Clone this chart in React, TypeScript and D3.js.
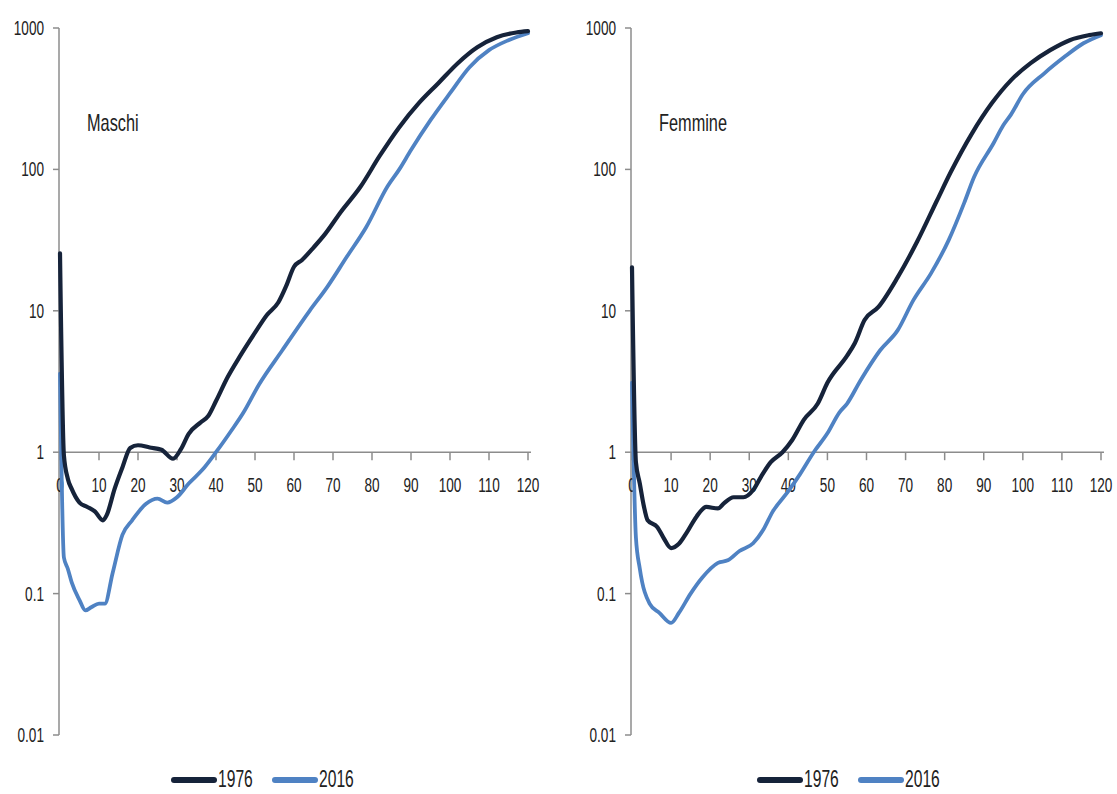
import React from "react";
import * as d3 from "d3";

// mortality per 1000 (log scale)
const maleAges1976 = [0, 1, 2, 3, 5, 7, 9, 11, 12, 14, 16, 18, 20, 23, 26, 29, 31, 33, 36, 38, 40, 43, 46, 50, 53, 56, 58, 60, 62, 65, 68, 72, 77, 82, 87, 92, 97, 102, 107, 112, 117, 120];
const male1976 = [25.5, 0.95, 0.65, 0.55, 0.44, 0.41, 0.38, 0.33, 0.36, 0.55, 0.78, 1.07, 1.12, 1.08, 1.04, 0.9, 1.05, 1.35, 1.62, 1.8, 2.3, 3.4, 4.7, 7.0, 9.3, 11.5, 15, 20.5, 22.8, 28, 35, 50, 75, 125, 199, 294, 407, 564, 731, 861, 930, 950];

const maleAges2016 = [0, 1, 2, 3, 5, 6.5, 8, 10, 11.5, 13.5, 16, 18.5, 22, 25, 27.5, 30, 33, 36.5, 40, 44, 47, 51, 57, 64, 68.5, 73.5, 78.5, 84, 87, 90, 95, 100, 105, 110, 115, 120];
const male2016 = [3.6, 0.18, 0.15, 0.12, 0.09, 0.076, 0.08, 0.085, 0.085, 0.14, 0.26, 0.33, 0.43, 0.47, 0.44, 0.48, 0.6, 0.75, 1.0, 1.43, 1.9, 3.0, 5.26, 10, 14.7, 24, 39, 76, 100, 137, 223, 346, 528, 697, 820, 918];

const femaleAges1976 = [0, 1, 2, 3, 4, 6.5, 8, 10, 12, 14, 16.5, 19, 22, 23.5, 26, 28.5, 31, 33, 35.5, 38.5, 41, 44, 47.5, 50, 55, 57, 59.5, 63, 68, 73, 78, 81.5, 87, 92, 97, 102, 107, 112, 117, 120];
const female1976 = [20.3, 0.85, 0.6, 0.42, 0.33, 0.295, 0.25, 0.21, 0.225, 0.27, 0.35, 0.41, 0.4, 0.435, 0.48, 0.48, 0.54, 0.67, 0.85, 1.0, 1.22, 1.7, 2.2, 3.1, 4.8, 5.9, 8.6, 10.6, 17.3, 31, 60, 95, 180, 292, 428, 564, 697, 820, 890, 918];

const femaleAges2016 = [0, 1, 2, 4.5, 7, 10, 12, 15, 18, 22, 24.5, 27.5, 31, 33.5, 36, 40, 43, 46.5, 50, 53, 55, 58.5, 63.5, 68, 72, 76.5, 81, 85, 87.5, 92.5, 95, 97, 100, 105.5, 110.5, 115.5, 120];
const female2016 = [3.1, 0.25, 0.15, 0.085, 0.073, 0.062, 0.073, 0.1, 0.13, 0.165, 0.172, 0.2, 0.227, 0.28, 0.38, 0.53, 0.7, 1.0, 1.36, 1.9, 2.2, 3.23, 5.26, 7.3, 11.9, 18.4, 31.5, 58, 88, 153, 205, 245, 340, 478, 620, 780, 890];

const xTicks = [0, 10, 20, 30, 40, 50, 60, 70, 80, 90, 100, 110, 120];
const yTicks = [0.01, 0.1, 1, 10, 100, 1000];
const yTickLabels = ["0.01", "0.1", "1", "10", "100", "1000"];
const seriesNames = ["1976", "2016"];
const panelTitles = ["Maschi", "Femmine"];

const COLORS = ["#16233a", "#4f82c3"];
const AXIS = "#8c8c8c";
const TEXT = "#222";
const FONT = "'Liberation Sans', Arial, sans-serif";
const SQUEEZE = 0.68;

const W = 1117;
const H = 794;

const yScale = d3.scaleLog().domain([0.01, 1000]).range([735, 28]);

type Series = { ages: number[]; values: number[] };

function Label(props: { x: number; y: number; size: number; anchor?: string; children: React.ReactNode }) {
  return (
    <text
      transform={`translate(${props.x},${props.y}) scale(${SQUEEZE},1)`}
      textAnchor={props.anchor || "start"}
      fontSize={props.size}
      fontFamily={FONT}
      fill={TEXT}
    >
      {props.children}
    </text>
  );
}

function Panel(props: { left: number; right: number; title: string; series: Series[]; legendX: number }) {
  const { left, right, title, series, legendX } = props;
  const xScale = d3.scaleLinear().domain([0, 120]).range([left, right]);
  const line = d3
    .line<[number, number]>()
    .curve(d3.curveMonotoneX)
    .x((d) => xScale(d[0]))
    .y((d) => yScale(d[1]));

  const axisY = yScale(1);
  const axisX = left - 1;

  return (
    <g>
      {/* y axis */}
      <line x1={axisX} x2={axisX} y1={yScale(1000)} y2={yScale(0.01)} stroke={AXIS} strokeWidth={1.5} />
      {yTicks.map((t, i) => (
        <g key={t}>
          <line x1={axisX - 6} x2={axisX} y1={yScale(t)} y2={yScale(t)} stroke={AXIS} strokeWidth={1.5} />
          <Label x={axisX - 15} y={yScale(t) + 7} size={20} anchor="end">
            {yTickLabels[i]}
          </Label>
        </g>
      ))}

      {/* x axis drawn at 1 */}
      <line x1={axisX} x2={xScale(120) + 3} y1={axisY} y2={axisY} stroke={AXIS} strokeWidth={1.5} />
      {xTicks.map((t) => (
        <g key={t}>
          <line x1={xScale(t)} x2={xScale(t)} y1={axisY} y2={axisY + 8} stroke={AXIS} strokeWidth={1.5} />
          <Label x={xScale(t)} y={axisY + 40} size={20} anchor="middle">
            {t}
          </Label>
        </g>
      ))}

      {/* series, 2016 first so 1976 sits on top where they meet */}
      {[1, 0].map((si) => {
        const s = series[si];
        const pts = s.ages.map((a, i) => [a, s.values[i]] as [number, number]);
        return (
          <path
            key={si}
            d={line(pts) || ""}
            fill="none"
            stroke={COLORS[si]}
            strokeWidth={si === 0 ? 4.2 : 3.8}
            strokeLinejoin="round"
            strokeLinecap="round"
          />
        );
      })}

      <Label x={left + 27} y={131} size={24}>
        {title}
      </Label>

      {/* legend */}
      {seriesNames.map((name, i) => {
        const x = legendX + i * 101;
        return (
          <g key={name}>
            <line x1={x} x2={x + 40} y1={780} y2={780} stroke={COLORS[i]} strokeWidth={6} strokeLinecap="round" />
            <Label x={x + 44} y={787} size={23}>
              {name}
            </Label>
          </g>
        );
      })}
    </g>
  );
}

export default function App() {
  const maleSeries: Series[] = [
    { ages: maleAges1976, values: male1976 },
    { ages: maleAges2016, values: male2016 },
  ];
  const femaleSeries: Series[] = [
    { ages: femaleAges1976, values: female1976 },
    { ages: femaleAges2016, values: female2016 },
  ];
  return (
    <div style={{ position: "fixed", left: 0, top: 0, width: W, height: H, background: "#fff" }}>
      <svg width={W} height={H} viewBox={`0 0 ${W} ${H}`}>
        <rect width={W} height={H} fill="#fff" />
        <Panel left={60} right={528} title={panelTitles[0]} series={maleSeries} legendX={174} />
        <Panel left={632} right={1101} title={panelTitles[1]} series={femaleSeries} legendX={760} />
      </svg>
    </div>
  );
}
